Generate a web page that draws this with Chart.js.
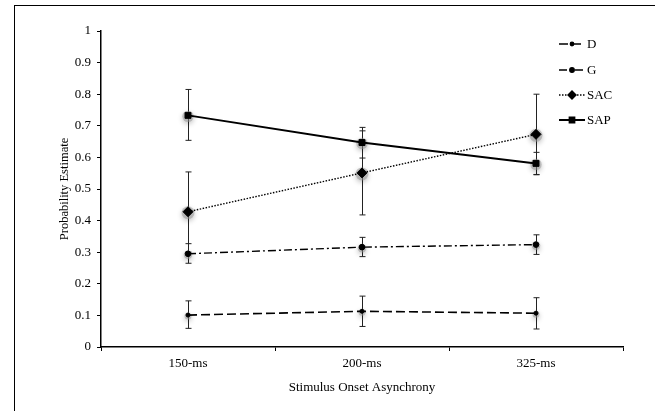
<!DOCTYPE html>
<html>
<head>
<meta charset="utf-8">
<script src="https://cdn.jsdelivr.net/npm/chart.js@4/dist/chart.umd.min.js"></script>
<style>
  html, body { margin: 0; padding: 0; background: #fff; }
  #wrap { position: relative; width: 655px; height: 411px; overflow: hidden; }
  #frame { position: absolute; left: 14px; top: 5px; width: 700px; height: 500px;
           border-top: 1.5px solid #000; border-left: 1.5px solid #000; }
  canvas { position: absolute; left: 0; top: 0; }
</style>
</head>
<body>
<div id="wrap">
  <div id="frame"></div>
  <canvas id="c" width="655" height="411"></canvas>
</div>
<script>
const categories = ['150-ms', '200-ms', '325-ms'];
const seriesNames = ['D', 'G', 'SAC', 'SAP'];

const D_values = [0.101, 0.113, 0.107];
const D_low    = [0.059, 0.065, 0.057];
const D_high   = [0.146, 0.161, 0.156];

const G_values = [0.295, 0.316, 0.324];
const G_low    = [0.265, 0.286, 0.293];
const G_high   = [0.327, 0.347, 0.355];

const SAC_values = [0.428, 0.551, 0.673];
const SAC_low    = [0.300, 0.418, 0.545];
const SAC_high   = [0.554, 0.684, 0.800];

const SAP_values = [0.733, 0.647, 0.581];
const SAP_low    = [0.654, 0.598, 0.546];
const SAP_high   = [0.815, 0.695, 0.616];

const yTicks = [0, 0.1, 0.2, 0.3, 0.4, 0.5, 0.6, 0.7, 0.8, 0.9, 1];

const FONT = '"Liberation Serif", "Times New Roman", serif';

const errors = [
  { low: D_low, high: D_high },
  { low: G_low, high: G_high },
  { low: SAC_low, high: SAC_high },
  { low: SAP_low, high: SAP_high }
];

const styles = [
  { dash: [9, 4], width: 1.6, point: 'circle', radius: 2 },
  { dash: [8, 3, 2, 3], width: 1.4, point: 'circle', radius: 2.8 },
  { dash: [1.5, 1.5], width: 1.4, point: 'rectRot', radius: 5 },
  { dash: [], width: 2, point: 'rect', radius: 4.2 }
];

const values = [D_values, G_values, SAC_values, SAP_values];

const datasets = seriesNames.map((name, i) => ({
  label: name,
  data: values[i],
  borderColor: '#000',
  backgroundColor: '#000',
  borderWidth: styles[i].width,
  borderDash: styles[i].dash,
  pointStyle: styles[i].point,
  pointRadius: styles[i].radius,
  pointBorderWidth: 1,
  pointBackgroundColor: '#000',
  pointBorderColor: '#000',
  fill: false,
  tension: 0
}));

const errorBarPlugin = {
  id: 'errorBars',
  beforeDatasetsDraw(chart) {
    const ctx = chart.ctx;
    const x = chart.scales.x, y = chart.scales.y;
    ctx.save();
    ctx.strokeStyle = '#222';
    ctx.lineWidth = 1;
    ctx.setLineDash([]);
    errors.forEach((e) => {
      for (let j = 0; j < categories.length; j++) {
        const px = Math.round(x.getPixelForValue(j)) + 0.5;
        const top = y.getPixelForValue(e.high[j]);
        const bot = y.getPixelForValue(e.low[j]);
        ctx.beginPath();
        ctx.moveTo(px, top); ctx.lineTo(px, bot);
        ctx.moveTo(px - 3, top); ctx.lineTo(px + 3, top);
        ctx.moveTo(px - 3, bot); ctx.lineTo(px + 3, bot);
        ctx.stroke();
      }
    });
    // soft grey halo behind markers
    chart.data.datasets.forEach((ds, i) => {
      const meta = chart.getDatasetMeta(i);
      meta.data.forEach((pt) => {
        ctx.save();
        ctx.shadowColor = 'rgba(0,0,0,0.45)';
        ctx.shadowBlur = 5;
        ctx.shadowOffsetY = 2;
        ctx.fillStyle = 'rgba(150,150,150,0.5)';
        ctx.beginPath();
        ctx.arc(pt.x, pt.y + 1, ds.pointRadius + 1.5, 0, Math.PI * 2);
        ctx.fill();
        ctx.restore();
      });
    });
    ctx.restore();
  }
};

const legendPlugin = {
  id: 'customLegend',
  afterDraw(chart) {
    const ctx = chart.ctx;
    const x0 = 559, x1 = 585, tx = 587;
    const ys = [44, 70, 95, 120];
    ctx.save();
    chart.data.datasets.forEach((ds, i) => {
      const yy = ys[i];
      ctx.strokeStyle = '#000';
      ctx.lineWidth = ds.borderWidth;
      ctx.setLineDash(ds.borderDash);
      ctx.beginPath();
      ctx.moveTo(x0, yy); ctx.lineTo(x1, yy);
      ctx.stroke();
      ctx.setLineDash([]);
      Chart.helpers.drawPoint(ctx, {
        pointStyle: ds.pointStyle,
        radius: ds.pointRadius * 0.8,
        rotation: 0,
        borderWidth: 1
      }, (x0 + x1) / 2, yy);
      ctx.fillStyle = '#000';
      ctx.fill();
      ctx.font = '13px ' + FONT;
      ctx.textBaseline = 'middle';
      ctx.textAlign = 'left';
      ctx.fillText(ds.label, tx, yy + 0.5);
    });
    ctx.restore();
  }
};

new Chart(document.getElementById('c'), {
  type: 'line',
  data: { labels: categories, datasets },
  plugins: [errorBarPlugin, legendPlugin],
  options: {
    responsive: false,
    animation: false,
    devicePixelRatio: 1,
    layout: { padding: { left: 16, right: 32, top: 31, bottom: 0 } },
    plugins: { legend: { display: false }, tooltip: { enabled: false } },
    scales: {
      x: {
        type: 'category',
        offset: true,
        afterFit(s) { s.height = 64; },
        border: { display: true, color: '#000', width: 1.5 },
        grid: { display: true, offset: true, drawOnChartArea: false, drawTicks: true, tickLength: 4, color: '#000', lineWidth: 1 },
        ticks: { color: '#000', font: { family: FONT, size: 13 }, padding: 5 },
        title: { display: true, text: 'Stimulus Onset Asynchrony', color: '#000',
                 font: { family: FONT, size: 13 }, padding: { top: 0, bottom: 16 } }
      },
      y: {
        min: 0, max: 1,
        afterFit(s) { s.width = 85; },
        afterBuildTicks(s) { s.ticks = yTicks.map(v => ({ value: v })); },
        border: { display: true, color: '#000', width: 1.5 },
        grid: { display: true, drawOnChartArea: false, drawTicks: true, tickLength: 4, color: '#000', lineWidth: 1 },
        ticks: { color: '#000', font: { family: FONT, size: 13 }, padding: 6,
                 callback: (v) => String(Math.round(v * 10) / 10) },
        title: { display: true, text: 'Probability Estimate', color: '#000',
                 font: { family: FONT, size: 12.5 }, padding: { top: 41, bottom: 0 } }
      }
    }
  }
});
</script>
</body>
</html>
